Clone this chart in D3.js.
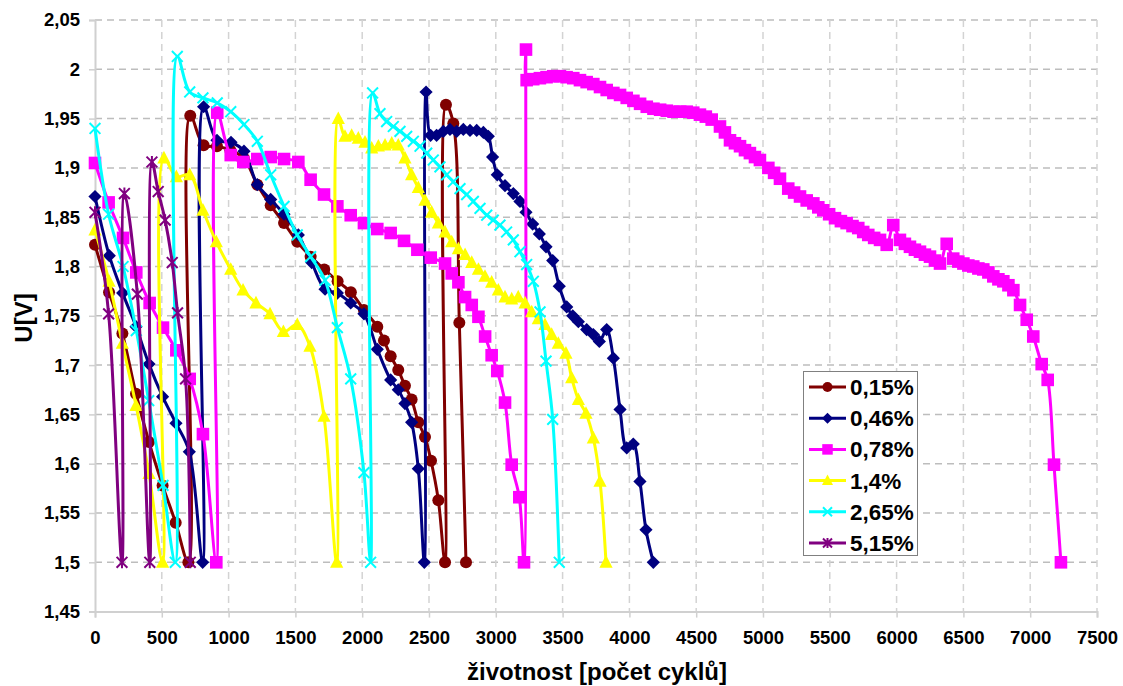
<!DOCTYPE html>
<html><head><meta charset="utf-8">
<script src="https://cdnjs.cloudflare.com/ajax/libs/d3/7.8.5/d3.min.js"></script>
<style>
body{margin:0;background:#fff;}
text{font-family:"Liberation Sans",Arial,sans-serif;font-weight:bold;fill:#000;}
</style></head>
<body><svg id="chart" width="1123" height="686"></svg>
<script>
// ---- data: [počet cyklů, U] ----
const seriesNames = ["0,15%","0,46%","0,78%","1,4%","2,65%","5,15%"];
const seriesColors = ["#800000","#000080","#FF00FF","#FFFF00","#00FFFF","#800080"];
const seriesMarkers = ["circle","diamond","square","triangle","x","star"];

const d015 = [[0,1.822],[105,1.774],[205,1.732],[307,1.671],[404,1.622],[506,1.578],[604,1.540],[699,1.5],
 [713,1.953],[813,1.923],[913,1.922],[1013,1.918],[1113,1.910],[1215,1.883],[1315,1.862],[1415,1.844],[1514,1.825],
 [1614,1.810],[1716,1.797],[1816,1.785],[1915,1.774],[2013,1.756],[2113,1.739],[2163,1.725],[2213,1.709],[2270,1.695],
 [2320,1.679],[2370,1.665],[2420,1.642],[2470,1.627],[2515,1.603],[2570,1.563],[2620,1.5],
 [2627,1.964],[2682,1.945],[2727,1.743],[2777,1.5]];

const d046 = [[0,1.871],[107,1.811],[207,1.773],[307,1.739],[404,1.701],[506,1.668],[606,1.641],[706,1.612],[806,1.5],
 [813,1.962],[913,1.928],[1018,1.926],[1115,1.917],[1215,1.883],[1315,1.868],[1415,1.853],[1522,1.832],[1622,1.804],
 [1722,1.777],[1814,1.773],[1914,1.763],[2013,1.752],[2113,1.716],[2213,1.685],[2270,1.675],[2320,1.661],[2370,1.642],
 [2420,1.595],[2465,1.5],
 [2478,1.977],[2512,1.933],[2557,1.933],[2607,1.937],[2657,1.939],[2707,1.937],[2757,1.939],[2807,1.938],[2857,1.938],
 [2907,1.936],[2944,1.932],[2976,1.911],[3011,1.893],[3069,1.882],[3131,1.874],[3181,1.866],[3226,1.855],[3276,1.843],
 [3326,1.833],[3376,1.820],[3426,1.806],[3475,1.780],[3531,1.759],[3576,1.750],[3618,1.744],[3680,1.736],[3730,1.731],
 [3775,1.724],[3830,1.736],[3880,1.707],[3930,1.655],[3980,1.616],[4029,1.620],[4079,1.582],[4124,1.533],[4179,1.5]];

const d078 = [[0,1.905],[102,1.865],[210,1.829],[309,1.794],[409,1.763],[509,1.738],[609,1.715],[709,1.686],[808,1.630],[908,1.5],
 [915,1.956],[1016,1.913],[1110,1.906],[1215,1.909],[1315,1.911],[1415,1.909],[1522,1.906],[1614,1.888],[1714,1.873],
 [1814,1.861],[1914,1.852],[2013,1.844],[2113,1.838],[2213,1.834],[2313,1.826],[2413,1.817],[2513,1.809],[2620,1.803],
 [2670,1.793],[2720,1.784],[2770,1.769],[2820,1.761],[2870,1.749],[2920,1.729],[2969,1.710],[3011,1.694],[3069,1.662],
 [3119,1.599],[3176,1.566],[3211,1.5],
 [3226,2.020],[3231,1.989],[3280,1.990],[3330,1.991],[3380,1.992],[3430,1.993],[3480,1.993],[3530,1.992],[3580,1.991],
 [3630,1.989],[3680,1.987],[3730,1.985],[3780,1.982],[3830,1.979],[3880,1.976],[3930,1.974],[3980,1.971],[4030,1.968],
 [4080,1.965],[4130,1.962],[4180,1.960],[4230,1.959],[4280,1.958],[4330,1.957],[4380,1.957],[4429,1.957],[4478,1.956],
 [4528,1.954],[4572,1.952],[4616,1.949],[4678,1.942],[4715,1.936],[4753,1.928],[4790,1.925],[4828,1.922],[4865,1.918],
 [4902,1.915],[4940,1.911],[4977,1.908],[5040,1.900],[5083,1.895],[5127,1.889],[5189,1.879],[5233,1.875],[5277,1.871],
 [5327,1.867],[5377,1.864],[5414,1.860],[5451,1.857],[5495,1.853],[5539,1.849],[5583,1.846],[5626,1.844],[5670,1.841],
 [5713,1.839],[5750,1.835],[5788,1.832],[5832,1.829],[5876,1.827],
 [5926,1.822],[5975,1.842],[6025,1.827],[6062,1.823],[6100,1.820],[6137,1.817],[6175,1.815],[6212,1.812],[6250,1.810],
 [6287,1.806],[6325,1.803],[6375,1.823],[6424,1.808],[6462,1.805],[6500,1.803],[6537,1.801],[6574,1.800],[6612,1.798],
 [6649,1.797],[6687,1.794],[6724,1.790],[6762,1.787],[6799,1.785],[6837,1.781],[6874,1.776],[6924,1.761],[6974,1.746],
 [7023,1.729],[7086,1.701],[7131,1.685],[7178,1.599],[7230,1.5]];

const d14 = [[0,1.837],[105,1.785],[205,1.722],[307,1.659],[404,1.590],[506,1.5],
 [516,1.910],[609,1.891],[709,1.893],[808,1.857],[908,1.825],[1016,1.797],[1108,1.776],[1205,1.763],[1310,1.752],
 [1410,1.734],[1514,1.741],[1609,1.719],[1714,1.648],[1809,1.5],
 [1821,1.950],[1871,1.932],[1921,1.933],[1971,1.930],[2021,1.926],[2071,1.920],[2121,1.922],[2171,1.923],[2221,1.925],
 [2270,1.923],[2320,1.910],[2370,1.893],[2420,1.880],[2470,1.867],[2520,1.855],[2570,1.844],[2620,1.835],[2670,1.825],
 [2720,1.818],[2770,1.812],[2820,1.804],[2870,1.797],[2919,1.790],[2969,1.784],[3019,1.776],[3069,1.769],[3119,1.767],
 [3168,1.769],[3219,1.763],[3269,1.754],[3318,1.747],[3368,1.741],[3418,1.731],[3468,1.722],[3525,1.712],[3568,1.687],
 [3618,1.665],[3675,1.651],[3730,1.626],[3780,1.582],[3825,1.5]];

const d265 = [[0,1.940],[102,1.853],[210,1.800],[309,1.735],[402,1.664],[509,1.578],[601,1.5],
 [616,2.013],[709,1.977],[808,1.971],[915,1.966],[1016,1.957],[1115,1.944],[1215,1.927],[1315,1.893],[1415,1.861],
 [1514,1.832],[1614,1.810],[1722,1.786],[1814,1.738],[1914,1.686],[2013,1.591],[2063,1.5],
 [2078,1.976],[2133,1.955],[2183,1.947],[2233,1.942],[2283,1.937],[2333,1.932],[2383,1.927],[2433,1.922],[2483,1.915],
 [2532,1.908],[2582,1.901],[2632,1.893],[2682,1.886],[2732,1.879],[2782,1.873],[2832,1.866],[2882,1.859],[2932,1.852],
 [2981,1.847],[3031,1.842],[3081,1.835],[3131,1.827],[3181,1.815],[3231,1.802],[3281,1.785],[3331,1.754],[3376,1.704],
 [3426,1.645],[3475,1.5]];

const d515 = [[0,1.855],[102,1.752],[202,1.5],[220,1.874],[317,1.772],[410,1.5],
 [426,1.906],[473,1.876],[525,1.847],[578,1.804],[618,1.753],[678,1.686],[713,1.5]];

const seriesData = [d015,d046,d078,d14,d265,d515];

const xTicks = [0,500,1000,1500,2000,2500,3000,3500,4000,4500,5000,5500,6000,6500,7000,7500];
const yTicks = [1.45,1.5,1.55,1.6,1.65,1.7,1.75,1.8,1.85,1.9,1.95,2,2.05];
const yTickLabels = ["1,45","1,5","1,55","1,6","1,65","1,7","1,75","1,8","1,85","1,9","1,95","2","2,05"];
const xTitle = "životnost [počet cyklů]";
const yTitle = "U[V]";

// ---- drawing ----
const svg = d3.select("#chart");
const L = 95, R = 1097, T = 20, B = 611.6;
const x = d3.scaleLinear().domain([0,7500]).range([L,R]);
const y = d3.scaleLinear().domain([1.45,2.05]).range([B,T]);

// grid
const grid = svg.append("g");
grid.selectAll(".hg").data(yTicks.slice(1)).enter().append("line")
  .attr("x1",L).attr("x2",R).attr("y1",d=>y(d)).attr("y2",d=>y(d))
  .attr("stroke","#bdbdbd").attr("stroke-width",1.5).attr("stroke-dasharray","7,5");
grid.selectAll(".vg").data(xTicks.slice(1)).enter().append("line")
  .attr("y1",T).attr("y2",B).attr("x1",d=>x(d)).attr("x2",d=>x(d))
  .attr("stroke","#d3d3d3").attr("stroke-width",1.5).attr("stroke-dasharray","7,5");

// axes
const xAxis = d3.axisBottom(x).tickValues(xTicks).tickFormat(d=>String(d)).tickSize(6).tickPadding(13);
const gx = svg.append("g").attr("transform",`translate(0,${B})`).call(xAxis);
gx.select(".domain").attr("stroke","#d0d0d0").attr("stroke-width",2);
gx.selectAll(".tick line").attr("stroke","#d0d0d0").attr("stroke-width",1.5);
gx.selectAll(".tick text").style("font-size","18.5px").attr("font-family",null);

const yAxis = d3.axisLeft(y).tickValues(yTicks).tickFormat((d,i)=>yTickLabels[i]).tickSize(6).tickPadding(9);
const gy = svg.append("g").attr("transform",`translate(${L},0)`).call(yAxis);
gy.select(".domain").attr("stroke","#d0d0d0").attr("stroke-width",2);
gy.selectAll(".tick line").attr("stroke","#d0d0d0").attr("stroke-width",1.5);
gy.selectAll(".tick text").style("font-size","18.5px").attr("font-family",null);

svg.append("text").attr("x",597).attr("y",680).attr("text-anchor","middle")
  .style("font-size","24px").text(xTitle);
svg.append("text").attr("transform","translate(32,318) rotate(-90)").attr("text-anchor","middle")
  .style("font-size","24px").text(yTitle);

// markers
function drawMarker(g, type, color, cx, cy, s){
  if(type==="circle") g.append("circle").attr("cx",cx).attr("cy",cy).attr("r",s*0.5).attr("fill",color);
  else if(type==="diamond") g.append("path").attr("d",`M${cx},${cy-s*0.55}L${cx+s*0.55},${cy}L${cx},${cy+s*0.55}L${cx-s*0.55},${cy}Z`).attr("fill",color);
  else if(type==="square") { const q=s*1.05; g.append("rect").attr("x",cx-q/2).attr("y",cy-q/2).attr("width",q).attr("height",q).attr("fill",color); }
  else if(type==="triangle") g.append("path").attr("d",`M${cx},${cy-s*0.6}L${cx+s*0.55},${cy+s*0.45}L${cx-s*0.55},${cy+s*0.45}Z`).attr("fill",color);
  else if(type==="x"){ const h=s*0.45;
    g.append("path").attr("d",`M${cx-h},${cy-h}L${cx+h},${cy+h}M${cx-h},${cy+h}L${cx+h},${cy-h}`).attr("stroke",color).attr("stroke-width",2).attr("fill","none"); }
  else if(type==="star"){ const h=s*0.45;
    g.append("path").attr("d",`M${cx-h},${cy-h}L${cx+h},${cy+h}M${cx-h},${cy+h}L${cx+h},${cy-h}M${cx},${cy-h*1.1}L${cx},${cy+h*1.1}`).attr("stroke",color).attr("stroke-width",2).attr("fill","none"); }
}

const line = d3.line().x(d=>x(d[0])).y(d=>y(d[1])).curve(d3.curveCatmullRom.alpha(0.5));
const plot = svg.append("g");
seriesData.forEach((data,i)=>{
  const g = plot.append("g");
  g.append("path").datum(data).attr("d",line).attr("fill","none")
    .attr("stroke",seriesColors[i]).attr("stroke-width",3).attr("stroke-linejoin","round");
  data.forEach(d=>drawMarker(g, seriesMarkers[i], seriesColors[i], x(d[0]), y(d[1]), 12));
});

// legend
const lg = svg.append("g");
lg.append("rect").attr("x",803.5).attr("y",371.5).attr("width",114).attr("height",184)
  .attr("fill","#fff").attr("stroke","#808080").attr("stroke-width",1);
seriesNames.forEach((n,i)=>{
  const cy = 387 + i*31.2;
  lg.append("line").attr("x1",809).attr("x2",846).attr("y1",cy).attr("y2",cy)
    .attr("stroke",seriesColors[i]).attr("stroke-width",3);
  drawMarker(lg, seriesMarkers[i], seriesColors[i], 827.5, cy, 10);
  lg.append("text").attr("x",850).attr("y",cy+8).style("font-size","22.5px").text(n);
});
</script></body></html>
